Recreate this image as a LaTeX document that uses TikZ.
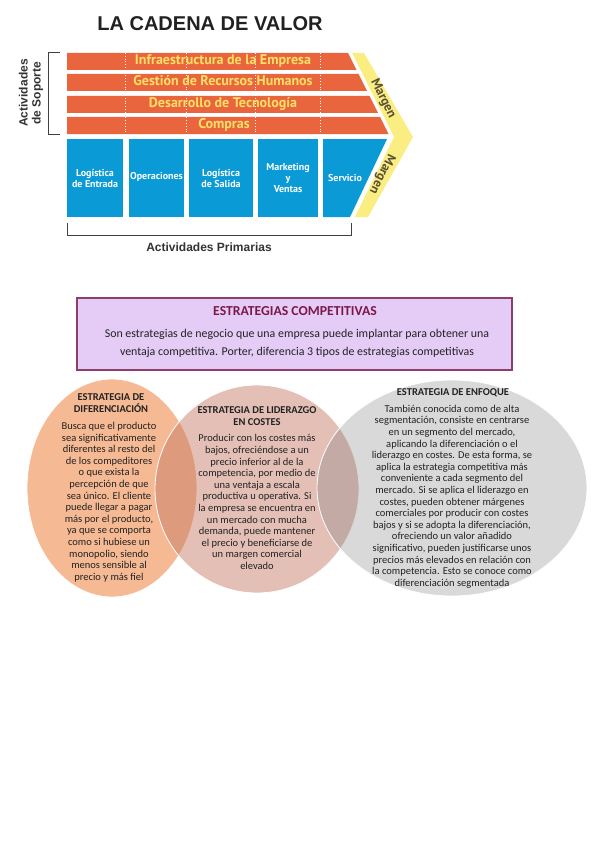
\documentclass[tikz,border=0pt]{standalone}
\usepackage{fontspec}
\setmainfont{Liberation Sans}
\newfontfamily\ptsans{PT Sans}
\newfontfamily\carlito{Carlito}
\definecolor{orangeR}{RGB}{233,101,62}
\definecolor{blueB}{RGB}{10,155,214}
\definecolor{yellowM}{RGB}{250,238,130}
\definecolor{textY}{RGB}{255,224,102}
\definecolor{margenT}{RGB}{90,80,54}
\definecolor{lav}{RGB}{229,204,247}
\definecolor{lavB}{RGB}{142,62,107}
\definecolor{lavT}{RGB}{122,24,72}
\definecolor{peach}{RGB}{245,185,148}
\definecolor{rose}{RGB}{196,121,100}
\definecolor{greyC}{RGB}{119,119,119}
\definecolor{darkT}{RGB}{34,34,34}
\begin{document}
\begin{tikzpicture}[x=1pt,y=-1pt,
  supp/.style={font=\ptsans\bfseries\fontsize{14}{16}\selectfont, text=textY, inner sep=0, text height=9.5pt, text depth=3pt},
  prim/.style={font=\ptsans\bfseries\fontsize{10}{11}\selectfont, text=white, align=center, inner sep=0},
  margen/.style={font=\ptsans\bfseries\fontsize{13}{14}\selectfont, text=margenT, inner sep=0},
  bracket/.style={draw=black!75, line width=1pt},
  sidelabel/.style={font=\bfseries\fontsize{12}{13}\selectfont, text=black!80, align=center, inner sep=0},
  ctitle/.style={font=\carlito\bfseries\fontsize{10.5}{12}\selectfont, align=center, text=darkT, inner sep=0},
  cbody/.style={font=\carlito\fontsize{10.5}{11.6}\selectfont, align=center, text=darkT, inner sep=0},
  sep/.style={draw=white, dotted, line width=0.8pt}
]
\useasboundingbox (0,0) rectangle (599,848);
\fill[white] (0,0) rectangle (599,848);

% title
\node[font=\bfseries\fontsize{20}{24}\selectfont, text=black!87, inner sep=0] (title) at (210,24) {LA CADENA DE VALOR};

% margin chevron
\fill[yellowM] (352,53) -- (364,53) -- (413,137) -- (368,217) -- (355,217) -- (394,137) -- cycle;

% support rows
\fill[orangeR] (67,53) -- (348,53) -- (356.5,70) -- (67,70) -- cycle;
\fill[orangeR] (67,74) -- (358.5,74) -- (367,91) -- (67,91) -- cycle;
\fill[orangeR] (67,96) -- (369.5,96) -- (378,113) -- (67,113) -- cycle;
\fill[orangeR] (67,117) -- (380,117) -- (388.5,134) -- (67,134) -- cycle;
\foreach \xx in {125.5,186.5,255.5,320.5} \draw[sep] (\xx,53) -- (\xx,134);

\node[supp] (infra) at (223,61.5) {Infraestructura de la Empresa};
\node[supp] (rrhh) at (223,82.5) {Gestión de Recursos Humanos};
\node[supp] (tec) at (223,104.5) {Desarrollo de Tecnología};
\node[supp] (compras) at (224,125.5) {Compras};

% primary boxes
\fill[blueB] (67,139) rectangle (123,217);
\fill[blueB] (129,139) rectangle (184,217);
\fill[blueB] (189,139) rectangle (253,217);
\fill[blueB] (258,139) rectangle (318,217);
\fill[blueB] (323,139) -- (387,139) -- (350,217) -- (323,217) -- cycle;

\node[prim] (le) at (95,178) {Logística\\de Entrada};
\node[prim] (op) at (156.5,177) {Operaciones};
\node[prim] (ls) at (221,178) {Logística\\de Salida};
\node[prim] (mv) at (288,178) {Marketing\\y\\Ventas};
\node[prim] (se) at (345,177.5) {Servicio};

\node[margen, rotate=-63.4] (m1) at (383,99) {Margen};
\node[margen, rotate=-116.6] (m2) at (382,174) {Margen};

% brackets
\draw[bracket] (60,53) -- (48,53) -- (48,134) -- (60,134);
\node[sidelabel, rotate=90] (soporte) at (31,93) {Actividades\\de Soporte};
\draw[bracket] (67,223) -- (67,235) -- (351,235) -- (351,223);
\node[sidelabel] (primarias) at (209,247) {Actividades Primarias};

% estrategias box
\node[draw=lavB, line width=1.5pt, fill=lav, minimum width=435pt, minimum height=72pt, inner sep=0] (box) at (294.5,334) {};
\node[font=\carlito\bfseries\fontsize{13.7}{15}\selectfont, text=lavT, inner sep=0] (boxtitle) at (295,311) {ESTRATEGIAS COMPETITIVAS};
\node[font=\carlito\fontsize{11.9}{18}\selectfont, text=darkT, align=center, inner sep=0] (boxbody) at (297,343) {Son estrategias de negocio que una empresa puede implantar para obtener una\\ventaja competitiva. Porter, diferencia 3 tipos de estrategias competitivas};

% ellipses
\fill[peach] (112,488) ellipse [x radius=85, y radius=109];
\draw[white, line width=0.8pt] (112,488) ellipse [x radius=85, y radius=109];
\fill[rose, fill opacity=0.47] (257,489) ellipse [x radius=102, y radius=104];
\draw[white, line width=0.8pt] (257,489) ellipse [x radius=102, y radius=104];
\fill[greyC, fill opacity=0.28] (452,488) ellipse [x radius=135, y radius=108];
\draw[white, line width=0.8pt] (452,488) ellipse [x radius=135, y radius=108];

\node[ctitle] (t1) at (111,403) {ESTRATEGIA DE\\DIFERENCIACIÓN};
\node[cbody] (b1) at (109,502) {Busca que el producto\\sea significativamente\\diferentes al resto del\\de los compeditores\\o que exista la\\percepción de que\\sea único. El cliente\\puede llegar a pagar\\más por el producto,\\ya que se comporta\\como si hubiese un\\monopolio, siendo\\menos sensible al\\precio y más fiel};

\node[ctitle] (t2) at (257,416.5) {ESTRATEGIA DE LIDERAZGO\\EN COSTES};
\node[cbody] (b2) at (257,502) {Producir con los costes más\\bajos, ofreciéndose a un\\precio inferior al de la\\competencia, por medio de\\una ventaja a escala\\productiva u operativa. Si\\la empresa se encuentra en\\un mercado con mucha\\demanda, puede mantener\\el precio y beneficiarse de\\un margen comercial\\elevado};

\node[ctitle] (t3) at (453,393) {ESTRATEGIA DE ENFOQUE};
\node[cbody] (b3) at (452,496.5) {También conocida como de alta\\segmentación, consiste en centrarse\\en un segmento del mercado,\\aplicando la diferenciación o el\\liderazgo en costes. De esta forma, se\\aplica la estrategia competitiva más\\conveniente a cada segmento del\\mercado. Si se aplica el liderazgo en\\costes, pueden obtener márgenes\\comerciales por producir con costes\\bajos y si se adopta la diferenciación,\\ofreciendo un valor añadido\\significativo, pueden justificarse unos\\precios más elevados en relación con\\la competencia. Esto se conoce como\\diferenciación segmentada};
\end{tikzpicture}
\end{document}
